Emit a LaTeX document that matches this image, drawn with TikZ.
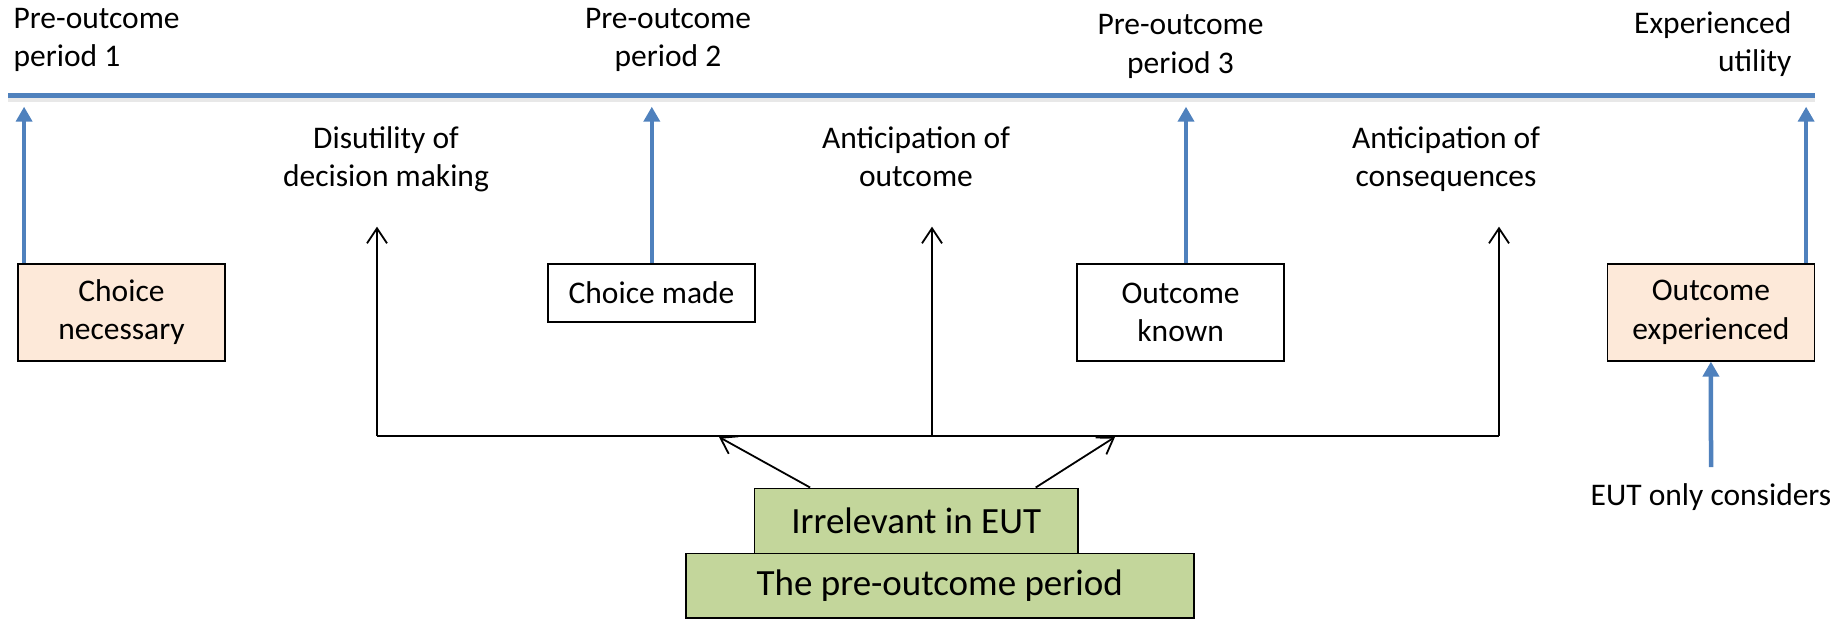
\documentclass[tikz,border=0pt]{standalone}
\usepackage{fontspec}
\setmainfont{Carlito}
\usetikzlibrary{arrows.meta,calc}
\definecolor{tlblue}{RGB}{79,129,189}
\definecolor{peach}{RGB}{253,233,217}
\definecolor{leaf}{RGB}{195,214,155}

\begin{document}
\begin{tikzpicture}[x=1pt,y=-1pt,
  txt/.style={inner sep=0pt, font=\fontsize{31.5}{38.4}\selectfont},
  lbl/.style={txt, align=center},
  stage/.style={txt, align=center, draw=black, line width=1.8pt,
    minimum width=207pt, minimum height=96.7pt},
  greenbox/.style={draw=black, line width=1.6pt, fill=leaf, inner sep=0pt,
    font=\fontsize{37}{44}\selectfont},
  bluearrow/.style={draw=tlblue, line width=4.5pt,
    -{Triangle[length=15pt,width=16pt]}},
  blackarrow/.style={draw=black, line width=1.8pt,
    -{Straight Barb[length=15pt,width=20pt]}},
  blackline/.style={draw=black, line width=1.8pt}
]
\useasboundingbox (0,0) rectangle (1846,619);

% time line with a soft shadow
\draw[line width=5pt, gray!18] (8,99.5) -- (1815,99.5);
\draw[line width=5pt, tlblue] (8,95) -- (1815,95);

% period labels above the time line (anchored at the last line's baseline)
\node[txt, align=left, anchor=base west] (p1) at (13.4,66.7) {Pre-outcome\\period 1};
\node[lbl, anchor=base] (p2) at (668,66.7) {Pre-outcome\\period 2};
\node[lbl, anchor=base] (p3) at (1180.5,73.3) {Pre-outcome\\period 3};
\node[txt, align=right, anchor=base east] (p4) at (1791.6,71.7) {Experienced\\utility};

% feelings between periods
\node[lbl, anchor=base] (dis) at (386,186.7) {Disutility of\\decision making};
\node[lbl, anchor=base] (antO) at (916,186.7) {Anticipation of\\outcome};
\node[lbl, anchor=base] (antC) at (1446,186.7) {Anticipation of\\consequences};

% stages
\node[stage, fill=peach] (cn) at (121.5,312.35) {Choice\\necessary};
\node[stage, minimum height=58.3pt] (cm) at (651.55,293.15) {Choice made};
\node[stage] (ok) at (1180.6,312.35) {Outcome\\known};
\node[stage, fill=peach] (oe) at (1710.9,312.35) {Outcome\\experienced};

% points on the time line
\coordinate (t1) at (24.1,106.7);
\coordinate (t2) at (651.8,106.7);
\coordinate (t3) at (1186,106.7);
\coordinate (t4) at (1806.1,106.7);

\draw[bluearrow] (cn.north -| t1) -- (t1);
\draw[bluearrow] (cm.north -| t2) -- (t2);
\draw[bluearrow] (ok.north -| t3) -- (t3);
\draw[bluearrow] (oe.north -| t4) -- (t4);

% EUT note
\node[txt, anchor=base] (eut) at (1711,505) {EUT only considers};
\coordinate (e0) at (1711,467);
\draw[bluearrow] (e0) -- (oe.south);

% bracket of irrelevant feelings
\coordinate (b1) at (377,436);
\coordinate (b2) at (932,436);
\coordinate (b3) at (1499,436);
\coordinate (u1) at (377,226.7);
\coordinate (u2) at (932,226.7);
\coordinate (u3) at (1499,226.7);
\draw[blackline] (b1) -- (b3);
\draw[blackarrow] (b1) -- (u1);
\draw[blackarrow] (b2) -- (u2);
\draw[blackarrow] (b3) -- (u3);

% green stack
\node[greenbox, minimum width=508pt, minimum height=64.7pt] (pop) at (939.7,585.65) {The pre-outcome period};
\node[greenbox, minimum width=323.2pt, minimum height=65pt] (irr) at (916.2,520.8) {Irrelevant in EUT};

\coordinate (d1) at (719,437);
\coordinate (d2) at (1115,437);
\draw[blackarrow] ($(irr.north west)+(56.3,0)$) -- (d1);
\draw[blackarrow] ($(irr.north west)+(281.9,0)$) -- (d2);
\end{tikzpicture}
\end{document}
